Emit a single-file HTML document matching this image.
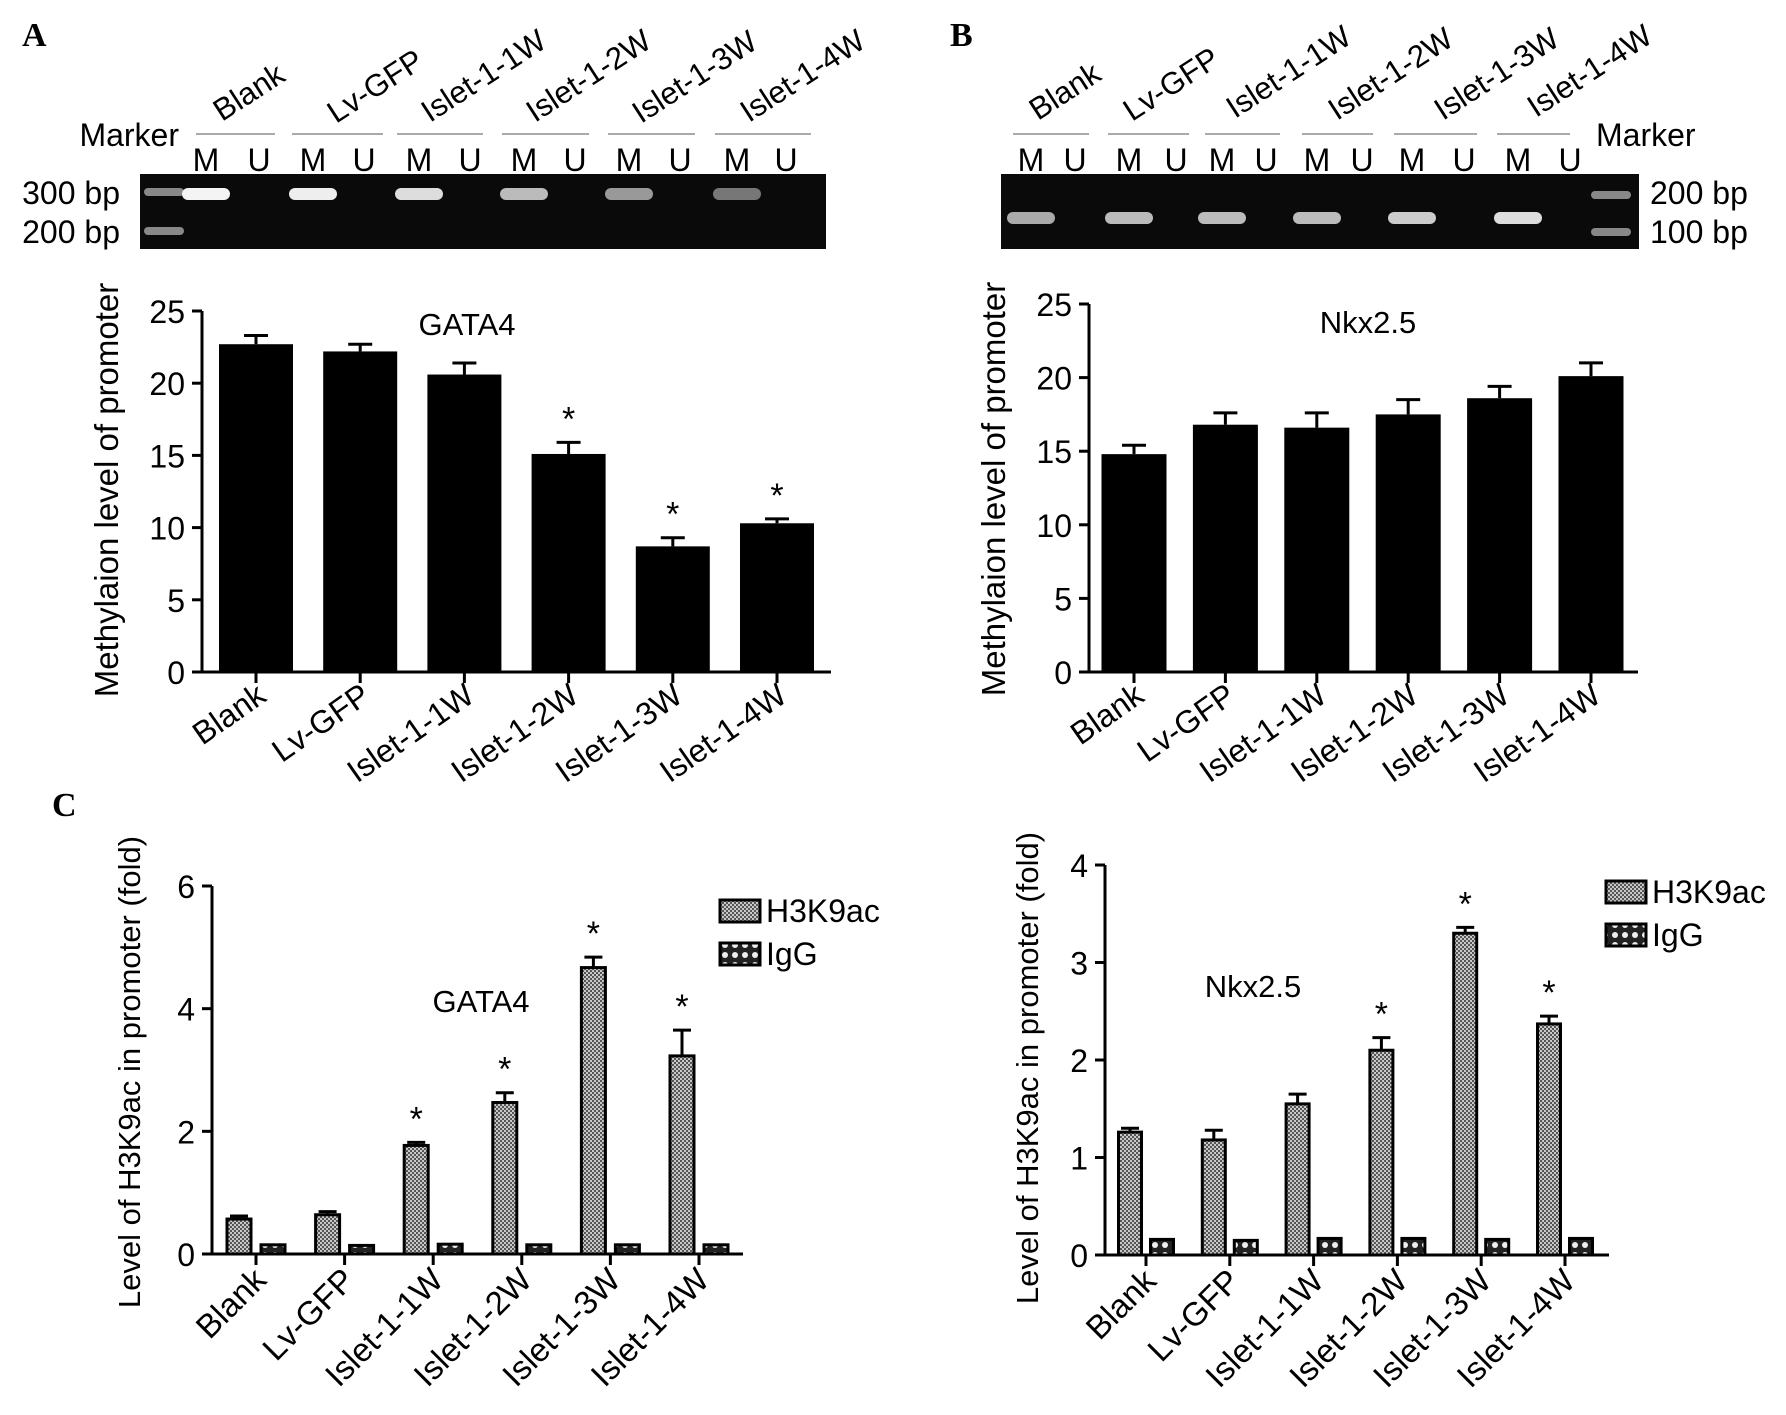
<!DOCTYPE html>
<html><head><meta charset="utf-8"><style>
html,body{margin:0;padding:0;background:#fff}
svg{display:block;font-family:"Liberation Sans",Arial,sans-serif}
</style></head><body>
<svg id="fig" width="1786" height="1415" viewBox="0 0 1786 1415" xmlns="http://www.w3.org/2000/svg">
<defs>
<pattern id="hatch" width="4" height="4" patternUnits="userSpaceOnUse">
<rect width="4" height="4" fill="#c8c8c8"/><rect width="2" height="2" fill="#555"/><rect x="2" y="2" width="2" height="2" fill="#555"/>
</pattern>
<pattern id="check" width="10" height="10" patternUnits="userSpaceOnUse">
<rect width="10" height="10" fill="#222"/><circle cx="5" cy="5" r="3" fill="#eee"/>
</pattern>
</defs>
<g id="root"></g>
</svg>
<script>
const categories = ["Blank","Lv-GFP","Islet-1-1W","Islet-1-2W","Islet-1-3W","Islet-1-4W"];
const gataMeth = [22.7,22.2,20.6,15.1,8.7,10.3];
const gataMethErr = [0.6,0.5,0.8,0.8,0.6,0.3];
const gataMethStar = [false,false,false,true,true,true];
const nkxMeth = [14.8,16.8,16.6,17.5,18.6,20.1];
const nkxMethErr = [0.6,0.8,1.0,1.0,0.8,0.9];
const methTicks = [0,5,10,15,20,25];
const gataH3 = [0.57,0.64,1.77,2.47,4.67,3.23];
const gataH3Err = [0.05,0.05,0.05,0.16,0.17,0.42];
const gataIgG = [0.15,0.14,0.16,0.15,0.15,0.15];
const gataH3Star = [false,false,true,true,true,true];
const gataTicks = [0,2,4,6];
const nkxH3 = [1.26,1.18,1.55,2.1,3.3,2.37];
const nkxH3Err = [0.04,0.1,0.1,0.13,0.06,0.08];
const nkxIgG = [0.16,0.15,0.17,0.17,0.16,0.17];
const nkxH3Star = [false,false,false,true,true,true];
const nkxTicks = [0,1,2,3,4];

const NS="http://www.w3.org/2000/svg";
const root=document.getElementById('root');
function el(tag,attrs,parent,text){const e=document.createElementNS(NS,tag);for(const k in attrs)e.setAttribute(k,attrs[k]);if(text!==undefined)e.textContent=text;(parent||root).appendChild(e);return e;}

function panelLetter(t,x,y){const e=el('text',{x:x,y:y,'font-family':'"Liberation Serif",serif','font-weight':'bold','font-size':34},root,t);

}
panelLetter('A',22,46);panelLetter('B',950,46);panelLetter('C',52,816);

function gel(o){
  const g=el('g',{});
  
  
  el('rect',{x:o.x0,y:174,width:o.x1-o.x0,height:75,fill:'#0a0a0a'},g);
  o.markerBands.forEach(b=>el('rect',{x:o.mx,y:b-4,width:40,height:8,rx:4,fill:'#888'},g));
  o.mPos.forEach((m,i)=>{el('rect',{x:m-24,y:o.bandY-6,width:48,height:12,rx:6,fill:o.bandCol[i]},g);});
  o.segs.forEach(s=>el('line',{x1:s[0],x2:s[1],y1:134,y2:134,stroke:'#aaa','stroke-width':2},g));
  o.mPos.forEach((m,i)=>{el('text',{x:m,y:171,'text-anchor':'middle','font-size':32},g,'M');el('text',{x:o.uPos[i],y:171,'text-anchor':'middle','font-size':32},g,'U');});
  o.labStart.forEach((p,i)=>{const t=el('text',{x:p[0],y:p[1],'font-size':31,transform:`rotate(-33 ${p[0]} ${p[1]})`},g,categories[i]);
    });
  const mk=el('text',{x:o.markerX,y:146,'font-size':32,'text-anchor':o.markerAnchor},g,'Marker');
  
  el('text',{x:o.bpX,y:204,'font-size':32,'text-anchor':o.bpAnchor},g,o.bp[0]);
  el('text',{x:o.bpX,y:243,'font-size':32,'text-anchor':o.bpAnchor},g,o.bp[1]);
}
gel({name:'gel-gata4',x0:140,x1:826,mx:144,markerBands:[192,231],bandY:194,
  mPos:[206,313,419,524,629,737],uPos:[259,364,470,575,680,786],
  bandCol:['#f4f4f4','#eee','#ddd','#bbb','#999','#777'],
  segs:[[196,275],[292,383],[397,483],[502,589],[608,695],[715,811]],
  labStart:[[222,122],[336,124],[430,123],[535,123],[641,124],[749,123]],
  markerX:179,markerAnchor:'end',bpX:120,bpAnchor:'end',bp:['300 bp','200 bp']});
gel({name:'gel-nkx25',x0:1001,x1:1639,mx:1591,markerBands:[195,232],bandY:218,
  mPos:[1031,1129,1222,1317,1412,1518],uPos:[1075,1176,1266,1362,1464,1570],
  bandCol:['#aaa','#bbb','#bbb','#bbb','#ccc','#ddd'],
  segs:[[1013,1089],[1108,1189],[1205,1280],[1302,1373],[1394,1477],[1497,1570]],
  labStart:[[1038,121],[1132,122],[1235,119],[1337,121],[1443,121],[1536,118]],
  markerX:1596,markerAnchor:'start',bpX:1650,bpAnchor:'start',bp:['200 bp','100 bp']});

function axisFrame(o){
  const g=el('g',{});
  
  
  const yS=v=>o.y0-(v/o.max)*(o.y0-o.yTop);
  el('line',{x1:o.ax,x2:o.ax,y1:o.yTop,y2:o.y0+1,stroke:'#000','stroke-width':3},g);
  el('line',{x1:o.ax-10,x2:o.xEnd,y1:o.y0,y2:o.y0,stroke:'#000','stroke-width':3},g);
  o.ticks.forEach(t=>{const y=yS(t);el('line',{x1:o.ax-10,x2:o.ax,y1:y,y2:y,stroke:'#000','stroke-width':3},g);
    const tl=el('text',{x:o.ax-17,y:y+12,'text-anchor':'end','font-size':32},g,String(t));
    });
  const xS=i=>o.c0+i*o.step;
  categories.forEach((c,i)=>{const x=xS(i);el('line',{x1:x,x2:x,y1:o.y0,y2:o.y0+11,stroke:'#000','stroke-width':3},g);
    const tx=x+12,ty=o.y0+28;
    const tl=el('text',{x:tx,y:ty,'text-anchor':'end','font-size':o.xf,transform:`rotate(${o.rot} ${tx} ${ty})`},g,c);
    });
  const yl=el('text',{x:o.ylx,y:o.yly,'text-anchor':'middle','font-size':o.ylf,transform:`rotate(-90 ${o.ylx} ${o.yly})`},g,o.ylabel);
  
  const ti=el('text',{x:o.tx,y:o.ty,'text-anchor':'middle','font-size':31},g,o.title);
  
  return {g,yS,xS};
}
function errBar(g,x,yTop,yErr,hw){el('line',{x1:x,x2:x,y1:yErr,y2:yTop,stroke:'#000','stroke-width':3},g);
  el('line',{x1:x-hw,x2:x+hw,y1:yErr,y2:yErr,stroke:'#000','stroke-width':3},g);}
function star(g,x,y){const s=el('text',{x:x,y:y,'text-anchor':'middle','font-size':34},g,'*');
  }

function methChart(o,vals,errs,stars){
  const A=axisFrame(o);
  vals.forEach((v,i)=>{const x=A.xS(i),y=A.yS(v);
    const b=el('rect',{x:x-o.bw/2,y:y,width:o.bw,height:o.y0-y,fill:'#000'},A.g);
    
    
    const ye=A.yS(v+errs[i]);errBar(A.g,x,y,ye,12);
    if(stars&&stars[i])star(A.g,x,ye-12);});
}
methChart({name:'chart-gata4-methylation',ax:202,y0:672,yTop:311,max:25,xEnd:831,c0:256,step:104.2,bw:74,ticks:methTicks,rot:-35,xf:32,
  ylx:118,yly:490,ylf:33,ylabel:'Methylaion level of promoter',tx:467,ty:335,title:'GATA4'},gataMeth,gataMethErr,gataMethStar);
methChart({name:'chart-nkx25-methylation',ax:1089,y0:672,yTop:304,max:25,xEnd:1638,c0:1134,step:91.4,bw:65,ticks:methTicks,rot:-35,xf:32,
  ylx:1005,yly:489,ylf:33,ylabel:'Methylaion level of promoter',tx:1368,ty:333,title:'Nkx2.5'},nkxMeth,nkxMethErr,null);

function chipChart(o,h3,h3e,igg,stars){
  const A=axisFrame(o);
  h3.forEach((v,i)=>{const c=A.xS(i);
    const xh=c-o.off,y=A.yS(v);
    const b=el('rect',{x:xh-o.bw/2,y:y,width:o.bw,height:o.y0-y,fill:'url(#hatch)',stroke:'#000','stroke-width':3},A.g);
    
    
    const ye=A.yS(v+h3e[i]);errBar(A.g,xh,y,ye,9);
    if(stars[i])star(A.g,xh,ye-12);
    const xi=c+o.off,yi=A.yS(igg[i]);
    const b2=el('rect',{x:xi-o.bw/2,y:yi,width:o.bw,height:o.y0-yi,fill:'url(#check)',stroke:'#000','stroke-width':3},A.g);
    
    });
  const lg=el('g',{},A.g);
  
  
  el('rect',{x:o.lx,y:o.ly,width:40,height:22,fill:'url(#hatch)',stroke:'#000','stroke-width':3},lg);
  el('text',{x:o.lx+46,y:o.ly+22,'font-size':32},lg,'H3K9ac');
  el('rect',{x:o.lx,y:o.ly+43,width:40,height:22,fill:'url(#check)',stroke:'#000','stroke-width':3},lg);
  el('text',{x:o.lx+46,y:o.ly+65,'font-size':32},lg,'IgG');
}
chipChart({name:'chart-gata4-h3k9ac',ax:212,y0:1254,yTop:886,max:6,xEnd:743,c0:256,step:88.6,bw:24,off:17,ticks:gataTicks,rot:-45,xf:33,
  ylx:140,yly:1072,ylf:31,ylabel:'Level of H3K9ac in promoter (fold)',tx:481,ty:1012,title:'GATA4',lx:720,ly:900},gataH3,gataH3Err,gataIgG,gataH3Star);
chipChart({name:'chart-nkx25-h3k9ac',ax:1105,y0:1255,yTop:865,max:4,xEnd:1609,c0:1146,step:83.8,bw:23,off:16,ticks:nkxTicks,rot:-45,xf:33,
  ylx:1038,yly:1068,ylf:31,ylabel:'Level of H3K9ac in promoter (fold)',tx:1253,ty:997,title:'Nkx2.5',lx:1606,ly:881},nkxH3,nkxH3Err,nkxIgG,nkxH3Star);
</script>
</body></html>
